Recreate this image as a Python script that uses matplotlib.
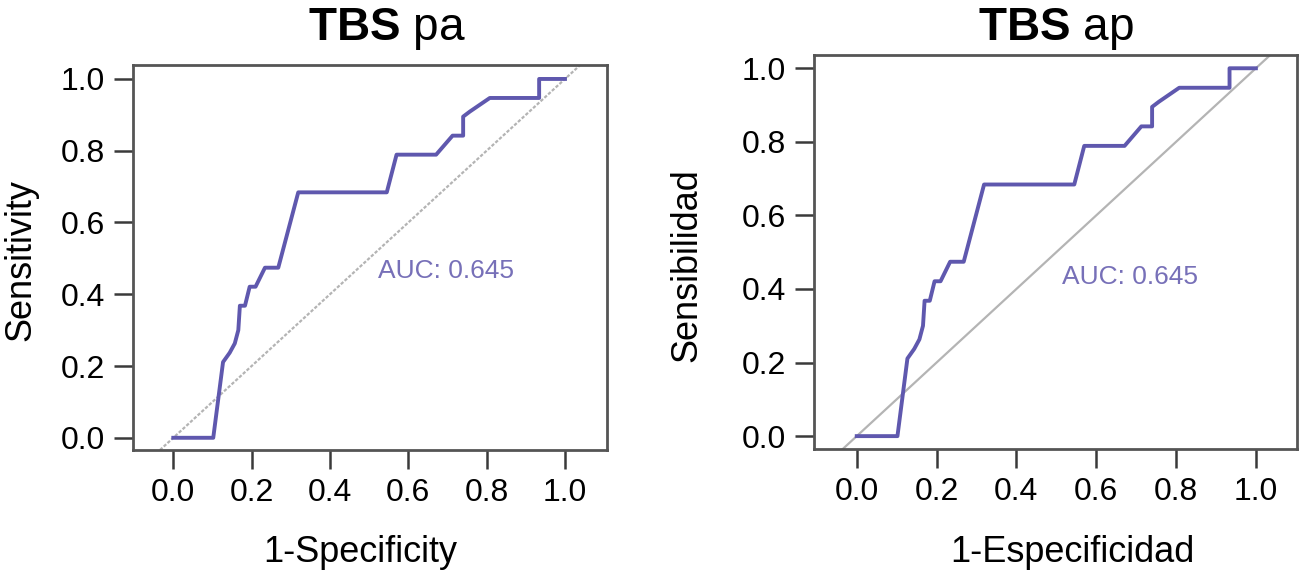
import numpy as np
import matplotlib
matplotlib.use("Agg")
import matplotlib.pyplot as plt

plt.rcParams['font.family'] = ['Liberation Sans', 'DejaVu Sans']
plt.rcParams['mathtext.fontset'] = 'custom'
plt.rcParams['mathtext.rm'] = 'Liberation Sans'
plt.rcParams['mathtext.bf'] = 'Liberation Sans:bold'

# ROC points (same curve in both panels)
fpr = [0.0, 0.102, 0.127, 0.144, 0.157, 0.166, 0.170, 0.183, 0.195, 0.210,
       0.234, 0.268, 0.319, 0.545, 0.570, 0.671, 0.713, 0.740, 0.740, 0.757,
       0.808, 0.934, 0.934, 1.0]
tpr = [0.0, 0.0, 0.211, 0.237, 0.263, 0.300, 0.368, 0.368, 0.421, 0.421,
       0.474, 0.474, 0.684, 0.684, 0.789, 0.789, 0.842, 0.842, 0.895, 0.909,
       0.947, 0.947, 1.0, 1.0]
auc = 0.645
ticks = [0.0, 0.2, 0.4, 0.6, 0.8, 1.0]

titles = ['TBS pa', 'TBS ap']
xlabels = ['1-Specificity', '1-Especificidad']
ylabels = ['Sensitivity', 'Sensibilidad']

curve_col = '#5f58ae'
text_col = '#7770b8'

fig = plt.figure(figsize=(13.06, 5.81), dpi=100)
ax1 = fig.add_axes([0.1018, 0.2255, 0.3629, 0.6627])
ax2 = fig.add_axes([0.6233, 0.2272, 0.3698, 0.6781])

# per panel: axes, xlim, ylim, AUC text pos, xlabel pos, ylabel pos, diagonal style, title x, title pad
setup = [
    (ax1, (-0.103, 1.107), (-0.034, 1.039), (0.522, 0.465), (0.479, -0.22), (-0.20, 0.494),
     (0, (1.5, 0.8)), 0.536, 18),
    (ax2, (-0.107, 1.103), (-0.035, 1.036), (0.515, 0.432), (0.534, -0.218), (-0.226, 0.467),
     '-', 0.5, 11),
]

for i, (ax, xl, yl, auc_pos, xlab_pos, ylab_pos, diag_ls, tx, tpad) in enumerate(setup):
    ax.axline((0, 0), (1, 1), color='#b4b4b4', lw=1.6, ls=diag_ls, zorder=1)
    ax.plot(fpr, tpr, color=curve_col, lw=2.8, zorder=2)
    ax.text(auc_pos[0], auc_pos[1], 'AUC: %.3f' % auc, color=text_col,
            fontsize=19, ha='left', va='center')
    ax.set_xlim(*xl)
    ax.set_ylim(*yl)
    ax.set_xticks(ticks)
    ax.set_yticks(ticks)
    ax.set_xticklabels(['%.1f' % t for t in ticks])
    ax.set_yticklabels(['%.1f' % t for t in ticks])
    ax.tick_params(labelsize=23, length=14, width=1.8, color='#3a3a3a', pad=6)
    for s in ax.spines.values():
        s.set_color('#555555')
        s.set_linewidth(2)
    name = titles[i].split()
    ax.set_title(r'$\mathbf{%s}$ %s' % (name[0], name[1]), fontsize=33, pad=tpad, x=tx)
    ax.set_xlabel(xlabels[i], fontsize=26)
    ax.set_ylabel(ylabels[i], fontsize=26)
    ax.xaxis.set_label_coords(*xlab_pos)
    ax.yaxis.set_label_coords(*ylab_pos)

fig.savefig('out.png', dpi=100)
